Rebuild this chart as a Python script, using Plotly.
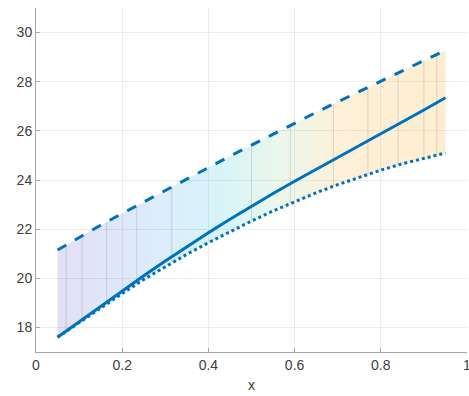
import numpy as np
import plotly.graph_objects as go

# ---- data ----
x_vals = [0.05, 0.10, 0.15, 0.20, 0.25, 0.30, 0.35, 0.40, 0.45, 0.50,
          0.55, 0.60, 0.65, 0.70, 0.75, 0.80, 0.85, 0.90, 0.95]
upper = [21.15, 21.66, 22.16, 22.64, 23.11, 23.58, 24.05, 24.51, 24.97, 25.42,
         25.87, 26.31, 26.75, 27.18, 27.6, 28.02, 28.43, 28.85, 29.28]
middle = [17.6, 18.23, 18.87, 19.5, 20.1, 20.7, 21.28, 21.85, 22.4, 22.93,
          23.45, 23.95, 24.43, 24.9, 25.38, 25.86, 26.35, 26.85, 27.35]
lower = [17.6, 18.2, 18.8, 19.38, 19.95, 20.48, 20.98, 21.45, 21.9, 22.33,
         22.74, 23.12, 23.48, 23.81, 24.12, 24.4, 24.66, 24.89, 25.1]
band_edges = [0.07, 0.107, 0.164, 0.234, 0.315, 0.50, 0.59, 0.69, 0.77,
              0.84, 0.90, 0.93]
x_ticks = [0, 0.2, 0.4, 0.6, 0.8, 1]
x_tick_text = ["0", "0.2", "0.4", "0.6", "0.8", "1"]
y_ticks = [18, 20, 22, 24, 26, 28, 30]

blue = "#0072BD"
font_family = "Liberation Sans, Arial, sans-serif"
fig = go.Figure()

# shaded band between lower and upper curves with horizontal colour gradient
fig.add_trace(go.Scatter(x=x_vals, y=lower, mode="lines",
                         line=dict(width=0), hoverinfo="skip", showlegend=False))
fig.add_trace(go.Scatter(
    x=x_vals, y=upper, mode="lines", line=dict(width=0), fill="tonexty",
    fillgradient=dict(type="horizontal", colorscale=[
        [0.0, "rgba(90,70,200,0.17)"],
        [0.2, "rgba(50,120,235,0.16)"],
        [0.42, "rgba(20,190,215,0.17)"],
        [0.58, "rgba(150,210,140,0.18)"],
        [0.72, "rgba(245,190,80,0.22)"],
        [1.0, "rgba(250,185,70,0.25)"],
    ]),
    hoverinfo="skip", showlegend=False))

# faint patch edges
ex, ey = [], []
for e in band_edges:
    ex += [e, e, None]
    ey += [float(np.interp(e, x_vals, lower)), float(np.interp(e, x_vals, upper)), None]
fig.add_trace(go.Scatter(x=ex, y=ey, mode="lines",
                         line=dict(color="rgba(90,90,90,0.2)", width=1),
                         hoverinfo="skip", showlegend=False))

fig.add_trace(go.Scatter(x=x_vals, y=upper, mode="lines",
                         line=dict(color=blue, width=3, dash="10px,10px"),
                         showlegend=False))
fig.add_trace(go.Scatter(x=x_vals, y=middle, mode="lines",
                         line=dict(color=blue, width=3), showlegend=False))
fig.add_trace(go.Scatter(x=x_vals, y=lower, mode="lines",
                         line=dict(color=blue, width=3, dash="dot"),
                         showlegend=False))

axis_common = dict(
    showline=True, linecolor="#a6a6a6", linewidth=1,
    ticks="inside", ticklen=4, tickcolor="#a6a6a6",
    showgrid=True, gridcolor="#ececec", gridwidth=1,
    zeroline=False, mirror=False, automargin=False,
    ticklabeloverflow="allow",
    tickfont=dict(family=font_family, size=14, color="#404040"),
)
fig.update_xaxes(range=[0, 1], tickvals=x_ticks, ticktext=x_tick_text,
                 title=dict(text="x", standoff=8,
                            font=dict(family=font_family, size=14, color="#404040")),
                 **axis_common)
fig.update_yaxes(range=[17, 31], tickvals=y_ticks, **axis_common)

fig.update_layout(
    width=469, height=396,
    margin=dict(l=36, r=2, t=8, b=44),
    plot_bgcolor="white", paper_bgcolor="white",
)
fig.write_html("out.html", config={"displayModeBar": False},
               post_script="document.body.style.margin='0px';"
                           "document.body.style.padding='0px';")
